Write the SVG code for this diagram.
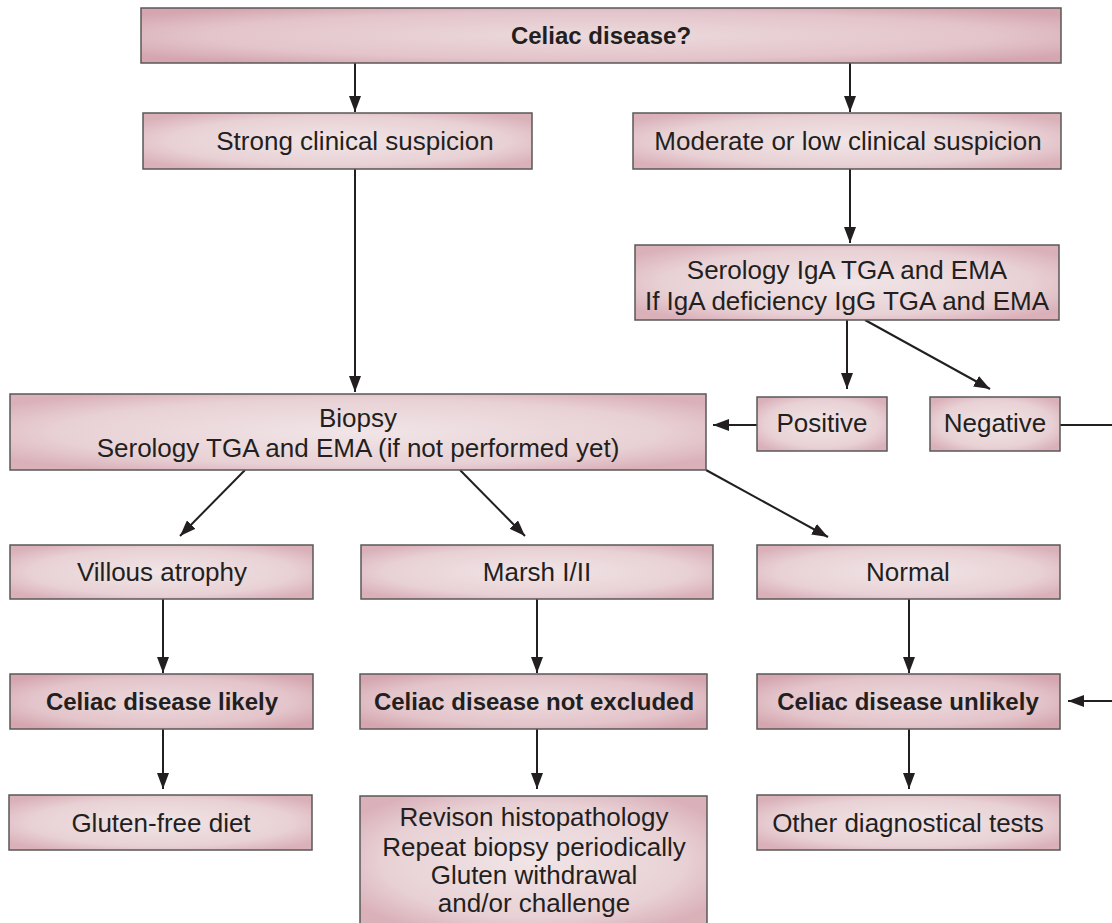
<svg xmlns="http://www.w3.org/2000/svg" width="1112" height="923" viewBox="0 0 1112 923">
<defs>
<radialGradient id="g" cx="0.5" cy="0.5" r="0.62" gradientUnits="objectBoundingBox">
<stop offset="0" stop-color="#f1e5e7"/>
<stop offset="0.7" stop-color="#e8d1d5"/>
<stop offset="1" stop-color="#dab0b9"/>
</radialGradient>
<radialGradient id="gb" cx="0.5" cy="0.5" r="0.62">
<stop offset="0" stop-color="#ecdadd"/>
<stop offset="0.7" stop-color="#e3c4ca"/>
<stop offset="1" stop-color="#d5a6b0"/>
</radialGradient>
<marker id="ah" markerWidth="16" markerHeight="12" refX="16" refY="6" orient="auto" markerUnits="userSpaceOnUse" viewBox="0 0 16 12">
<path d="M0,0 L16,6 L0,12 z" fill="#231f20"/>
</marker>
</defs>
<style>
.box{fill:url(#g);stroke:#58585a;stroke-width:1.5}
.boxb{fill:url(#gb);stroke:#58585a;stroke-width:1.5}
text{font-family:"Liberation Sans",Arial,sans-serif;font-size:26px;fill:#231f20;text-anchor:middle}
.b{font-weight:bold;font-size:24px}
.c{stroke:#231f20;stroke-width:2;fill:none;marker-end:url(#ah)}
.l{stroke:#231f20;stroke-width:2;fill:none}
</style>
<rect width="1112" height="923" fill="#ffffff"/>
<g id="connectors">
<line class="c" x1="355" y1="63" x2="355" y2="112"/>
<line class="c" x1="850" y1="63" x2="850" y2="112"/>
<line class="c" x1="850" y1="169" x2="850" y2="243"/>
<line class="c" x1="355" y1="169" x2="355" y2="392"/>
<line class="c" x1="847" y1="320" x2="847" y2="389"/>
<line class="c" x1="865" y1="320" x2="990" y2="389"/>
<line class="c" x1="757" y1="425" x2="713" y2="425"/>
<line class="l" x1="1060" y1="425" x2="1112" y2="425"/>
<line class="c" x1="245" y1="470" x2="180" y2="536"/>
<line class="c" x1="460" y1="470" x2="525" y2="536"/>
<line class="c" x1="706" y1="470" x2="828" y2="537"/>
<line class="c" x1="163" y1="599" x2="163" y2="673"/>
<line class="c" x1="537" y1="599" x2="537" y2="673"/>
<line class="c" x1="909" y1="599" x2="909" y2="673"/>
<line class="c" x1="1112" y1="701" x2="1068" y2="701"/>
<line class="c" x1="163" y1="729" x2="163" y2="789"/>
<line class="c" x1="537" y1="729" x2="537" y2="789"/>
<line class="c" x1="909" y1="729" x2="909" y2="789"/>
</g>
<g id="n-top"><rect class="boxb" x="141" y="8" width="920" height="55"/><text class="b" x="601" y="44">Celiac disease?</text></g>
<g id="n-strong"><rect class="box" x="143" y="113" width="389" height="56"/><text x="355" y="150">Strong clinical suspicion</text></g>
<g id="n-moderate"><rect class="box" x="633" y="113" width="428" height="56"/><text x="848" y="150">Moderate or low clinical suspicion</text></g>
<g id="n-serology"><rect class="box" x="635" y="245" width="424" height="75"/><text x="847" y="279">Serology IgA TGA and EMA</text><text x="847" y="310">If IgA deficiency IgG TGA and EMA</text></g>
<g id="n-positive"><rect class="box" x="757" y="397" width="130" height="54"/><text x="822" y="432">Positive</text></g>
<g id="n-negative"><rect class="box" x="930" y="397" width="130" height="54"/><text x="995" y="432">Negative</text></g>
<g id="n-biopsy"><rect class="box" x="10" y="394" width="696" height="76"/><text x="358" y="427">Biopsy</text><text x="358" y="457">Serology TGA and EMA (if not performed yet)</text></g>
<g id="n-villous"><rect class="box" x="10" y="545" width="303" height="54"/><text x="162" y="581">Villous atrophy</text></g>
<g id="n-marsh"><rect class="box" x="361" y="545" width="352" height="54"/><text x="537" y="581">Marsh I/II</text></g>
<g id="n-normal"><rect class="box" x="757" y="545" width="303" height="54"/><text x="908" y="581">Normal</text></g>
<g id="n-likely"><rect class="boxb" x="10" y="674" width="303" height="55"/><text class="b" x="162" y="710">Celiac disease likely</text></g>
<g id="n-notexcl"><rect class="boxb" x="360" y="674" width="347" height="55"/><text class="b" x="534" y="710">Celiac disease not excluded</text></g>
<g id="n-unlikely"><rect class="boxb" x="757" y="674" width="303" height="55"/><text class="b" x="908" y="710">Celiac disease unlikely</text></g>
<g id="n-gfd"><rect class="box" x="9" y="795" width="303" height="55"/><text x="161" y="832">Gluten-free diet</text></g>
<g id="n-revison"><rect class="box" x="360" y="796" width="347" height="130"/><text x="534" y="826">Revison histopathology</text><text x="534" y="856">Repeat biopsy periodically</text><text x="534" y="884">Gluten withdrawal</text><text x="534" y="912">and/or challenge</text></g>
<g id="n-other"><rect class="box" x="757" y="795" width="303" height="55"/><text x="908" y="832">Other diagnostical tests</text></g>
</svg>
